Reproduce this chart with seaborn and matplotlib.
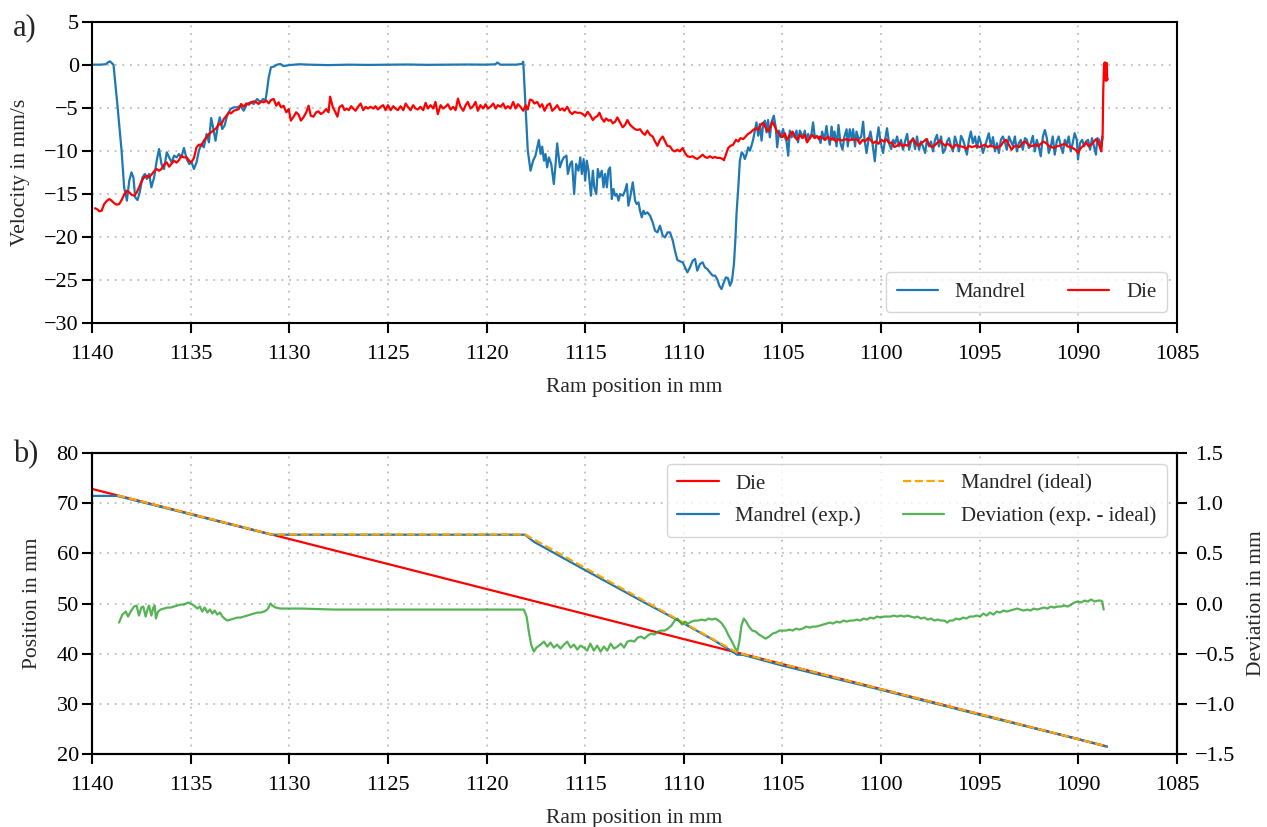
import matplotlib
matplotlib.use("Agg")
import matplotlib.pyplot as plt
import seaborn as sns
from matplotlib.lines import Line2D

# ---------------------------------------------------------------- panel a)
# Mandrel velocity (mm/s) against ram position (mm)
mandrel_ram_a = [
    1140.00, 1139.60, 1139.30, 1139.17, 1139.09, 1138.91, 1138.70, 1138.50, 1138.37, 1138.23,
    1138.11, 1138.00, 1137.90, 1137.81, 1137.69, 1137.58, 1137.44, 1137.32, 1137.22, 1137.10,
    1136.99, 1136.85, 1136.72, 1136.60, 1136.48, 1136.35, 1136.21, 1136.09, 1135.96, 1135.84,
    1135.71, 1135.59, 1135.47, 1135.34, 1135.20, 1135.07, 1134.95, 1134.83, 1134.70, 1134.58,
    1134.46, 1134.33, 1134.19, 1134.07, 1133.96, 1133.86, 1133.74, 1133.62, 1133.52, 1133.40,
    1133.28, 1133.15, 1132.98, 1132.81, 1132.64, 1132.47, 1132.31, 1132.14, 1131.97, 1131.80,
    1131.63, 1131.46, 1131.33, 1131.21, 1131.13, 1131.04, 1130.93, 1130.79, 1130.62, 1130.45,
    1130.29, 1130.00, 1129.50, 1129.00, 1128.00, 1127.00, 1126.00, 1125.00, 1124.00, 1123.00,
    1122.00, 1121.00, 1120.00, 1119.55, 1119.45, 1119.30, 1118.50, 1118.20, 1118.14, 1118.02,
    1117.91, 1117.77, 1117.64, 1117.52, 1117.43, 1117.35, 1117.26, 1117.18, 1117.09, 1117.01,
    1116.93, 1116.84, 1116.72, 1116.59, 1116.50, 1116.42, 1116.28, 1116.17, 1116.08, 1115.95,
    1115.88, 1115.76, 1115.67, 1115.56, 1115.46, 1115.34, 1115.25, 1115.17, 1115.08, 1115.00,
    1114.92, 1114.83, 1114.71, 1114.61, 1114.54, 1114.44, 1114.36, 1114.27, 1114.16, 1114.07,
    1113.99, 1113.90, 1113.82, 1113.74, 1113.65, 1113.57, 1113.48, 1113.40, 1113.31, 1113.23,
    1113.09, 1112.98, 1112.89, 1112.81, 1112.72, 1112.59, 1112.47, 1112.39, 1112.30, 1112.22,
    1112.13, 1112.05, 1111.96, 1111.85, 1111.71, 1111.58, 1111.46, 1111.34, 1111.21, 1111.07,
    1110.95, 1110.83, 1110.70, 1110.56, 1110.45, 1110.33, 1110.19, 1110.06, 1109.94, 1109.82,
    1109.69, 1109.55, 1109.43, 1109.32, 1109.18, 1109.05, 1108.93, 1108.81, 1108.68, 1108.54,
    1108.42, 1108.31, 1108.20, 1108.09, 1107.97, 1107.87, 1107.77, 1107.66, 1107.56, 1107.46,
    1107.39, 1107.33, 1107.24, 1107.16, 1107.07, 1106.99, 1106.91, 1106.82, 1106.74, 1106.65,
    1106.57, 1106.48, 1106.40, 1106.32, 1106.23, 1106.15, 1106.06, 1105.98, 1105.89, 1105.81,
    1105.73, 1105.64, 1105.56, 1105.44, 1105.34, 1105.27, 1105.17, 1105.08, 1104.97, 1104.88,
    1104.80, 1104.71, 1104.63, 1104.54, 1104.46, 1104.38, 1104.29, 1104.21, 1104.12, 1104.04,
    1103.95, 1103.87, 1103.79, 1103.70, 1103.62, 1103.53, 1103.45, 1103.36, 1103.28, 1103.15,
    1103.07, 1102.99, 1102.87, 1102.77, 1102.70, 1102.60, 1102.51, 1102.43, 1102.36, 1102.26,
    1102.16, 1102.06, 1101.96, 1101.86, 1101.75, 1101.69, 1101.59, 1101.48, 1101.42, 1101.32,
    1101.25, 1101.13, 1101.01, 1100.91, 1100.84, 1100.74, 1100.64, 1100.54, 1100.44, 1100.32,
    1100.24, 1100.13, 1100.03, 1099.90, 1099.80, 1099.70, 1099.60, 1099.49, 1099.39, 1099.29,
    1099.19, 1099.09, 1098.99, 1098.89, 1098.79, 1098.68, 1098.58, 1098.48, 1098.38, 1098.28,
    1098.18, 1098.08, 1097.98, 1097.88, 1097.77, 1097.67, 1097.57, 1097.47, 1097.37, 1097.27,
    1097.17, 1097.07, 1096.96, 1096.86, 1096.76, 1096.66, 1096.56, 1096.46, 1096.36, 1096.26,
    1096.16, 1096.05, 1095.95, 1095.85, 1095.75, 1095.65, 1095.55, 1095.45, 1095.35, 1095.24,
    1095.14, 1095.04, 1094.94, 1094.84, 1094.74, 1094.64, 1094.54, 1094.43, 1094.33, 1094.23,
    1094.13, 1094.03, 1093.93, 1093.83, 1093.73, 1093.63, 1093.52, 1093.42, 1093.32, 1093.22,
    1093.12, 1093.02, 1092.92, 1092.82, 1092.71, 1092.61, 1092.51, 1092.41, 1092.31, 1092.21,
    1092.11, 1092.01, 1091.91, 1091.80, 1091.70, 1091.60, 1091.50, 1091.40, 1091.30, 1091.20,
    1091.10, 1091.00, 1090.89, 1090.79, 1090.69, 1090.59, 1090.49, 1090.39, 1090.29, 1090.19,
    1090.08, 1090.02, 1089.92, 1089.81, 1089.71, 1089.61, 1089.51, 1089.41, 1089.31, 1089.21,
    1089.11, 1089.04, 1088.94, 1088.84, 1088.77,
]
mandrel_vel_a = [
    0.00, 0.00, 0.05, 0.30, 0.39, 0.00, -4.96, -10.00, -14.26, -15.81,
    -13.49, -12.52, -13.10, -15.43, -15.74, -14.84, -13.10, -12.71, -13.29, -12.71,
    -14.26, -13.10, -11.16, -9.81, -11.55, -12.13, -10.19, -10.78, -11.36, -10.58,
    -10.78, -10.39, -10.78, -9.69, -10.97, -11.55, -11.36, -12.13, -11.36, -10.00,
    -9.22, -9.61, -8.06, -9.03, -6.20, -7.29, -8.84, -7.09, -6.12, -7.48,
    -7.09, -5.93, -5.16, -4.96, -4.96, -4.77, -5.35, -4.57, -4.38, -4.57,
    -3.99, -4.38, -3.99, -4.19, -3.02, -1.47, -0.31, -0.23, 0.00, 0.08,
    -0.16, -0.05, 0.05, 0.00, -0.05, 0.00, -0.03, 0.00, 0.02, -0.02,
    0.00, 0.02, 0.00, 0.05, 0.25, 0.00, 0.00, 0.10, 0.35, -4.96,
    -10.00, -12.33, -11.16, -10.58, -9.61, -8.76, -10.39, -9.53, -11.16, -10.39,
    -11.94, -10.78, -11.55, -13.88, -11.55, -9.15, -11.94, -11.16, -10.78, -10.58,
    -12.71, -11.55, -11.24, -15.04, -11.55, -12.33, -10.78, -12.71, -10.97, -13.49,
    -11.16, -12.33, -15.23, -12.33, -14.26, -15.04, -12.13, -13.10, -12.33, -14.26,
    -12.71, -14.26, -12.25, -11.94, -15.62, -14.46, -15.23, -15.04, -15.81, -15.04,
    -15.23, -14.65, -13.88, -16.40, -15.43, -13.68, -15.81, -16.20, -16.01, -16.98,
    -17.75, -16.98, -17.36, -17.17, -17.56, -18.33, -19.30, -19.50, -18.72, -19.88,
    -20.08, -19.50, -19.50, -20.47, -21.63, -22.71, -22.87, -22.98, -23.57, -24.15,
    -23.57, -22.79, -22.60, -23.95, -23.18, -22.98, -23.57, -23.76, -24.15, -24.53,
    -24.53, -24.92, -25.70, -26.09, -25.31, -24.73, -24.81, -25.70, -25.12, -23.18,
    -20.47, -17.36, -14.26, -11.16, -10.19, -10.39, -10.97, -10.39, -9.61, -10.00,
    -9.42, -8.64, -7.67, -6.71, -8.26, -6.90, -8.84, -6.90, -6.51, -7.87,
    -6.43, -8.45, -6.71, -5.93, -7.29, -9.61, -7.67, -8.45, -7.48, -8.45,
    -8.84, -10.58, -7.67, -8.45, -7.87, -8.45, -7.67, -9.03, -7.67, -8.06,
    -8.45, -7.67, -8.84, -8.06, -8.64, -8.06, -6.71, -8.45, -8.26, -8.45,
    -9.12, -7.78, -8.74, -7.13, -8.35, -9.31, -7.20, -8.74, -7.78, -9.50,
    -7.01, -9.12, -9.89, -8.35, -7.51, -9.50, -7.51, -8.74, -7.51, -9.50,
    -7.78, -8.74, -8.35, -6.63, -8.74, -10.27, -8.74, -7.78, -9.12, -11.23,
    -9.12, -7.28, -8.93, -10.27, -8.74, -7.39, -9.12, -9.81, -8.74, -9.20,
    -8.35, -9.50, -8.74, -9.89, -8.93, -8.05, -9.89, -8.93, -8.54, -9.81,
    -8.35, -9.89, -8.93, -9.50, -10.27, -8.66, -9.50, -8.93, -10.08, -8.74,
    -8.16, -9.50, -8.35, -10.27, -9.89, -8.93, -8.54, -9.43, -10.08, -8.35,
    -9.12, -10.08, -8.28, -8.74, -9.50, -10.46, -8.74, -7.78, -9.12, -8.35,
    -9.69, -8.35, -9.12, -10.27, -9.50, -8.74, -7.97, -9.50, -8.43, -10.08,
    -9.12, -10.27, -8.74, -8.35, -8.93, -9.89, -8.35, -8.93, -9.43, -8.35,
    -10.08, -9.12, -8.74, -9.89, -8.54, -8.74, -9.69, -9.12, -8.28, -10.08,
    -8.74, -9.50, -10.65, -8.35, -7.59, -8.54, -10.27, -9.50, -8.35, -10.46,
    -8.93, -8.35, -9.50, -10.27, -8.74, -9.31, -8.35, -10.08, -9.12, -7.97,
    -8.74, -11.03, -9.12, -8.74, -9.50, -8.93, -8.74, -9.89, -8.54, -9.50,
    -10.46, -8.54, -8.74, -9.50, -8.35,
]

# Die velocity (mm/s) against ram position (mm)
die_ram_a = [
    1139.85, 1139.75, 1139.63, 1139.51, 1139.38, 1139.24, 1139.12, 1139.01, 1138.87, 1138.74,
    1138.62, 1138.50, 1138.37, 1138.23, 1138.11, 1138.00, 1137.86, 1137.73, 1137.61, 1137.49,
    1137.36, 1137.22, 1137.10, 1136.99, 1136.85, 1136.72, 1136.60, 1136.48, 1136.35, 1136.21,
    1136.09, 1135.98, 1135.84, 1135.71, 1135.59, 1135.47, 1135.34, 1135.20, 1135.08, 1134.97,
    1134.83, 1134.70, 1134.58, 1134.46, 1134.33, 1134.19, 1134.07, 1133.96, 1133.82, 1133.69,
    1133.57, 1133.45, 1133.32, 1133.18, 1133.06, 1132.95, 1132.81, 1132.68, 1132.56, 1132.44,
    1132.31, 1132.17, 1132.05, 1131.94, 1131.80, 1131.67, 1131.55, 1131.43, 1131.30, 1131.16,
    1131.04, 1130.93, 1130.79, 1130.66, 1130.54, 1130.42, 1130.29, 1130.15, 1130.03, 1129.92,
    1129.78, 1129.65, 1129.53, 1129.41, 1129.28, 1129.14, 1129.02, 1128.91, 1128.77, 1128.64,
    1128.52, 1128.40, 1128.27, 1128.13, 1128.01, 1127.93, 1127.79, 1127.68, 1127.56, 1127.46,
    1127.43, 1127.31, 1127.20, 1127.09, 1126.98, 1126.86, 1126.76, 1126.64, 1126.52, 1126.38,
    1126.25, 1126.13, 1126.01, 1125.88, 1125.74, 1125.63, 1125.51, 1125.37, 1125.24, 1125.12,
    1125.00, 1124.86, 1124.73, 1124.61, 1124.49, 1124.36, 1124.22, 1124.10, 1123.99, 1123.85,
    1123.72, 1123.60, 1123.48, 1123.35, 1123.21, 1123.09, 1122.97, 1122.84, 1122.70, 1122.59,
    1122.47, 1122.33, 1122.20, 1122.08, 1121.96, 1121.82, 1121.69, 1121.57, 1121.45, 1121.32,
    1121.18, 1121.06, 1120.95, 1120.81, 1120.68, 1120.56, 1120.44, 1120.31, 1120.17, 1120.05,
    1119.93, 1119.80, 1119.66, 1119.54, 1119.43, 1119.29, 1119.16, 1119.04, 1118.92, 1118.79,
    1118.65, 1118.53, 1118.41, 1118.28, 1118.14, 1118.02, 1117.91, 1117.80, 1117.69, 1117.57,
    1117.43, 1117.30, 1117.18, 1117.06, 1116.92, 1116.79, 1116.67, 1116.55, 1116.42, 1116.28,
    1116.17, 1116.05, 1115.91, 1115.78, 1115.66, 1115.54, 1115.41, 1115.25, 1115.12, 1115.00,
    1114.88, 1114.75, 1114.61, 1114.50, 1114.38, 1114.28, 1114.16, 1114.04, 1113.94, 1113.82,
    1113.70, 1113.60, 1113.48, 1113.37, 1113.23, 1113.10, 1112.98, 1112.86, 1112.72, 1112.59,
    1112.47, 1112.35, 1112.22, 1112.08, 1111.97, 1111.85, 1111.71, 1111.58, 1111.46, 1111.34,
    1111.21, 1111.07, 1110.95, 1110.84, 1110.70, 1110.57, 1110.45, 1110.33, 1110.20, 1110.06,
    1109.94, 1109.82, 1109.69, 1109.55, 1109.44, 1109.32, 1109.18, 1109.05, 1108.93, 1108.81,
    1108.68, 1108.54, 1108.42, 1108.31, 1108.17, 1108.04, 1107.97, 1107.87, 1107.75, 1107.63,
    1107.50, 1107.36, 1107.24, 1107.13, 1106.99, 1106.86, 1106.74, 1106.62, 1106.49, 1106.35,
    1106.23, 1106.11, 1105.98, 1105.84, 1105.73, 1105.61, 1105.51, 1105.39, 1105.27, 1105.14,
    1105.00, 1104.88, 1104.77, 1104.63, 1104.50, 1104.38, 1104.26, 1104.12, 1103.99, 1103.87,
    1103.75, 1103.62, 1103.48, 1103.37, 1103.25, 1103.15, 1103.10, 1102.97, 1102.83, 1102.70,
    1102.56, 1102.43, 1102.29, 1102.16, 1102.02, 1101.89, 1101.75, 1101.62, 1101.48, 1101.35,
    1101.21, 1101.08, 1100.94, 1100.81, 1100.67, 1100.54, 1100.40, 1100.27, 1100.13, 1100.00,
    1099.86, 1099.73, 1099.59, 1099.46, 1099.33, 1099.19, 1099.06, 1098.92, 1098.79, 1098.65,
    1098.52, 1098.38, 1098.25, 1098.11, 1097.98, 1097.84, 1097.71, 1097.57, 1097.44, 1097.30,
    1097.17, 1097.03, 1096.90, 1096.76, 1096.63, 1096.49, 1096.36, 1096.22, 1096.09, 1095.95,
    1095.82, 1095.68, 1095.55, 1095.41, 1095.28, 1095.14, 1095.01, 1094.87, 1094.74, 1094.60,
    1094.47, 1094.33, 1094.20, 1094.06, 1093.93, 1093.79, 1093.66, 1093.52, 1093.39, 1093.25,
    1093.12, 1092.98, 1092.85, 1092.71, 1092.58, 1092.45, 1092.31, 1092.18, 1092.04, 1091.91,
    1091.77, 1091.64, 1091.50, 1091.37, 1091.23, 1091.10, 1090.96, 1090.83, 1090.69, 1090.56,
    1090.42, 1090.29, 1090.15, 1090.02, 1089.88, 1089.75, 1089.61, 1089.48, 1089.34, 1089.21,
    1089.11, 1089.00, 1088.90, 1088.84, 1088.77, 1088.74, 1088.70, 1088.65, 1088.62, 1088.60,
    1088.58, 1088.56, 1088.54, 1088.53,
]
die_vel_a = [
    -16.70, -16.78, -17.05, -16.98, -16.20, -15.81, -15.62, -15.81, -16.12, -16.28,
    -16.20, -15.74, -15.12, -14.65, -14.84, -15.12, -15.23, -14.84, -14.26, -13.57,
    -13.10, -12.91, -13.10, -12.79, -12.40, -12.13, -12.33, -12.13, -11.63, -11.36,
    -11.86, -11.55, -11.16, -11.40, -11.09, -10.58, -10.78, -10.78, -11.16, -11.36,
    -10.85, -9.61, -9.30, -9.42, -8.84, -8.45, -8.06, -7.87, -7.60, -7.36,
    -6.90, -6.98, -6.32, -5.93, -5.54, -5.66, -5.35, -5.27, -5.16, -4.57,
    -4.88, -4.50, -4.65, -4.38, -4.26, -4.38, -4.57, -4.26, -4.38, -4.19,
    -4.50, -4.11, -3.99, -4.77, -4.38, -4.96, -4.77, -5.54, -5.16, -6.51,
    -6.05, -5.54, -5.81, -6.51, -6.12, -5.54, -4.77, -5.93, -6.05, -5.54,
    -5.43, -5.74, -5.54, -5.16, -5.54, -3.72, -4.96, -5.43, -6.05, -4.96,
    -4.90, -4.71, -5.29, -5.10, -5.29, -4.83, -5.10, -5.36, -4.90, -4.52,
    -5.29, -4.90, -5.10, -4.90, -5.10, -4.83, -5.21, -4.90, -4.71, -5.29,
    -4.71, -5.29, -4.83, -5.10, -5.29, -4.83, -5.29, -4.52, -4.90, -5.29,
    -4.71, -5.10, -5.21, -4.90, -5.29, -4.44, -5.10, -4.71, -5.10, -4.33,
    -5.75, -4.71, -5.10, -4.90, -4.60, -5.21, -4.90, -5.29, -3.95, -4.90,
    -5.36, -4.71, -4.33, -5.10, -4.83, -4.33, -5.36, -4.71, -5.10, -4.60,
    -5.10, -4.90, -4.52, -5.10, -4.71, -4.90, -4.52, -5.10, -4.83, -5.10,
    -4.33, -5.10, -4.60, -4.90, -5.36, -4.71, -5.21, -4.06, -4.14, -4.52,
    -4.33, -4.90, -4.60, -5.36, -4.71, -4.52, -5.36, -5.10, -4.71, -5.29,
    -5.10, -5.36, -4.90, -5.48, -5.75, -5.48, -5.59, -5.59, -5.75, -5.98,
    -5.48, -5.86, -6.44, -6.13, -5.98, -5.59, -6.25, -6.63, -6.25, -6.51,
    -6.44, -6.82, -6.63, -6.13, -6.74, -7.28, -7.01, -6.44, -7.01, -7.28,
    -7.51, -7.59, -7.51, -7.97, -8.16, -7.66, -8.16, -8.35, -8.93, -9.43,
    -8.74, -8.35, -8.93, -9.43, -9.50, -9.96, -10.08, -9.89, -10.08, -9.69,
    -10.27, -10.65, -10.73, -10.65, -10.84, -10.96, -10.73, -10.46, -10.73, -10.84,
    -10.65, -10.84, -10.73, -10.84, -10.84, -10.96, -11.11, -10.46, -9.69, -9.43,
    -9.31, -8.74, -8.93, -8.54, -8.66, -8.35, -8.05, -7.89, -7.59, -7.39,
    -7.59, -7.01, -6.74, -7.39, -7.78, -7.20, -6.63, -7.20, -7.78, -8.16,
    -8.43, -7.97, -8.74, -8.16, -7.78, -8.35, -8.74, -8.16, -8.54, -8.16,
    -9.04, -8.54, -8.16, -8.54, -8.35, -8.66, -8.35, -8.54, -8.74, -8.35,
    -8.74, -8.54, -8.93, -8.66, -8.81, -8.74, -8.66, -8.81, -8.66, -8.74,
    -8.66, -9.20, -8.74, -8.93, -8.54, -8.74, -9.12, -8.93, -9.20, -8.74,
    -8.93, -8.66, -9.12, -9.04, -9.58, -9.43, -9.12, -9.50, -9.31, -9.43,
    -8.93, -8.66, -9.12, -9.43, -9.12, -8.93, -8.66, -9.31, -9.58, -9.43,
    -9.12, -8.81, -9.12, -9.43, -9.20, -9.43, -9.69, -9.31, -9.43, -9.50,
    -9.58, -9.81, -9.43, -9.58, -9.50, -9.43, -9.58, -9.43, -9.31, -9.58,
    -9.43, -9.50, -9.69, -9.58, -9.43, -8.93, -8.74, -9.31, -9.89, -9.50,
    -9.43, -9.58, -9.12, -8.93, -9.20, -9.50, -9.43, -9.31, -9.50, -9.20,
    -8.93, -9.12, -9.43, -9.58, -9.69, -9.50, -9.43, -9.31, -9.20, -9.50,
    -9.58, -9.69, -9.89, -10.27, -9.69, -9.43, -9.04, -9.50, -9.31, -8.93,
    -8.66, -8.93, -9.69, -10.08, -7.97, -2.99, 0.15, 0.27, -1.84, 0.10,
    -1.84, 0.20, -1.80, -1.60,
]

# ---------------------------------------------------------------- panel b)
# Die position (mm)
die_ram_b = [1140.00, 1088.55]
die_pos_b = [72.90, 21.45]

# Mandrel position, measured (mm)
mandrel_exp_ram_b = [1140.00, 1138.72, 1130.90, 1118.05, 1117.60, 1115.00, 1112.00, 1110.30,
                     1108.50, 1107.60, 1107.30, 1107.00, 1105.00, 1100.00, 1095.00, 1090.00,
                     1088.55]
mandrel_exp_pos_b = [71.50, 71.50, 63.75, 63.75, 62.33, 56.68, 50.21, 46.66,
                     42.73, 40.55, 39.78, 39.75, 37.60, 32.76, 27.77, 22.91,
                     21.40]

# Mandrel position, ideal (mm)
mandrel_ideal_ram_b = [1138.72, 1130.90, 1118.05, 1107.30, 1088.55]
mandrel_ideal_pos_b = [71.62, 63.80, 63.80, 40.20, 21.45]

# Deviation exp. - ideal (mm), right axis
dev_ram_b = [
    1138.63, 1138.46, 1138.29, 1138.17, 1138.04, 1137.87, 1137.74, 1137.62, 1137.50, 1137.40,
    1137.28, 1137.19, 1137.11, 1136.99, 1136.89, 1136.82, 1136.76, 1136.65, 1136.52, 1136.35,
    1136.18, 1136.01, 1135.84, 1135.67, 1135.51, 1135.34, 1135.13, 1135.00, 1134.83, 1134.66,
    1134.53, 1134.41, 1134.29, 1134.15, 1134.02, 1133.90, 1133.78, 1133.65, 1133.51, 1133.39,
    1133.28, 1133.14, 1132.97, 1132.80, 1132.63, 1132.47, 1132.30, 1132.13, 1131.96, 1131.79,
    1131.62, 1131.45, 1131.28, 1131.11, 1131.03, 1130.95, 1130.86, 1130.69, 1130.44, 1130.10,
    1129.42, 1127.74, 1124.36, 1120.98, 1119.29, 1118.11, 1117.97, 1117.85, 1117.74, 1117.60,
    1117.47, 1117.26, 1117.09, 1116.92, 1116.76, 1116.59, 1116.42, 1116.25, 1116.08, 1115.91,
    1115.74, 1115.57, 1115.40, 1115.24, 1115.07, 1114.90, 1114.74, 1114.56, 1114.39, 1114.22,
    1114.05, 1113.88, 1113.71, 1113.54, 1113.37, 1113.20, 1113.03, 1112.86, 1112.68, 1112.51,
    1112.34, 1112.17, 1112.00, 1111.83, 1111.66, 1111.49, 1111.32, 1111.15, 1110.97, 1110.80,
    1110.63, 1110.46, 1110.33, 1110.21, 1110.09, 1109.95, 1109.78, 1109.61, 1109.44, 1109.27,
    1109.09, 1108.92, 1108.75, 1108.58, 1108.41, 1108.24, 1108.07, 1107.90, 1107.73, 1107.56,
    1107.39, 1107.28, 1107.18, 1107.08, 1106.96, 1106.84, 1106.70, 1106.53, 1106.36, 1106.19,
    1106.02, 1105.85, 1105.68, 1105.50, 1105.33, 1105.16, 1104.99, 1104.82, 1104.65, 1104.48,
    1104.31, 1104.14, 1103.97, 1103.80, 1103.62, 1103.45, 1103.28, 1103.11, 1102.94, 1102.77,
    1102.60, 1102.43, 1102.26, 1102.09, 1101.91, 1101.74, 1101.57, 1101.40, 1101.23, 1101.06,
    1100.89, 1100.72, 1100.55, 1100.38, 1100.21, 1100.03, 1099.86, 1099.69, 1099.52, 1099.35,
    1099.18, 1099.01, 1098.84, 1098.67, 1098.50, 1098.32, 1098.15, 1097.98, 1097.81, 1097.64,
    1097.47, 1097.30, 1097.13, 1096.96, 1096.79, 1096.65, 1096.53, 1096.36, 1096.19, 1096.02,
    1095.85, 1095.68, 1095.51, 1095.33, 1095.16, 1094.99, 1094.82, 1094.65, 1094.48, 1094.31,
    1094.14, 1093.97, 1093.80, 1093.63, 1093.45, 1093.28, 1093.11, 1092.94, 1092.77, 1092.60,
    1092.43, 1092.26, 1092.09, 1091.92, 1091.74, 1091.57, 1091.40, 1091.23, 1091.06, 1090.89,
    1090.72, 1090.55, 1090.36, 1090.20, 1090.03, 1089.86, 1089.69, 1089.52, 1089.36, 1089.17,
    1089.00, 1088.89, 1088.79, 1088.72,
]
dev_b = [
    -0.19, -0.11, -0.08, -0.13, -0.08, -0.03, -0.02, -0.12, -0.04, -0.03,
    -0.13, -0.06, -0.02, -0.12, -0.04, -0.02, -0.15, -0.08, -0.06, -0.05,
    -0.04, -0.04, -0.03, -0.02, -0.01, -0.01, 0.01, 0.00, -0.02, -0.05,
    -0.03, -0.08, -0.04, -0.09, -0.06, -0.10, -0.07, -0.11, -0.09, -0.13,
    -0.15, -0.17, -0.16, -0.15, -0.14, -0.14, -0.13, -0.12, -0.11, -0.10,
    -0.09, -0.09, -0.08, -0.06, -0.03, 0.00, -0.02, -0.04, -0.05, -0.05,
    -0.05, -0.06, -0.06, -0.06, -0.06, -0.06, -0.13, -0.29, -0.41, -0.48,
    -0.44, -0.41, -0.38, -0.43, -0.39, -0.44, -0.41, -0.45, -0.41, -0.38,
    -0.44, -0.41, -0.46, -0.42, -0.44, -0.47, -0.40, -0.47, -0.42, -0.48,
    -0.43, -0.47, -0.40, -0.45, -0.43, -0.40, -0.44, -0.38, -0.37, -0.38,
    -0.34, -0.33, -0.35, -0.32, -0.30, -0.31, -0.28, -0.27, -0.27, -0.25,
    -0.22, -0.17, -0.15, -0.18, -0.21, -0.18, -0.20, -0.18, -0.17, -0.17,
    -0.16, -0.17, -0.15, -0.16, -0.15, -0.17, -0.20, -0.25, -0.32, -0.38,
    -0.45, -0.47, -0.37, -0.22, -0.15, -0.18, -0.23, -0.27, -0.28, -0.31,
    -0.33, -0.35, -0.33, -0.30, -0.29, -0.27, -0.27, -0.27, -0.26, -0.27,
    -0.25, -0.26, -0.25, -0.23, -0.24, -0.23, -0.23, -0.22, -0.21, -0.20,
    -0.19, -0.20, -0.18, -0.19, -0.17, -0.18, -0.17, -0.17, -0.16, -0.17,
    -0.15, -0.16, -0.14, -0.15, -0.13, -0.14, -0.13, -0.13, -0.13, -0.12,
    -0.13, -0.12, -0.13, -0.12, -0.13, -0.14, -0.13, -0.15, -0.14, -0.16,
    -0.15, -0.17, -0.16, -0.17, -0.17, -0.19, -0.17, -0.17, -0.15, -0.16,
    -0.14, -0.15, -0.13, -0.13, -0.12, -0.13, -0.10, -0.12, -0.09, -0.11,
    -0.08, -0.09, -0.07, -0.08, -0.07, -0.06, -0.05, -0.06, -0.07, -0.06,
    -0.07, -0.05, -0.06, -0.05, -0.04, -0.05, -0.03, -0.04, -0.03, -0.03,
    -0.02, -0.03, -0.01, 0.01, 0.02, 0.01, 0.03, 0.02, 0.04, 0.02,
    0.03, 0.03, 0.02, -0.06,
]

# ---------------------------------------------------------------- styling
sns.set_style("ticks")
plt.rcParams["font.family"] = ["Liberation Serif", "DejaVu Serif"]
plt.rcParams["axes.unicode_minus"] = True

BLUE = "#1f77b4"
RED = "#ff0000"
ORANGE = "#ffa500"
GREEN = "#2ca02c"
TICK_FS = 16
LABEL_FS = 15.5
LEGEND_FS = 15

fig = plt.figure(figsize=(12.67, 8.27), dpi=100)
ax_a = fig.add_axes([0.0726, 0.6098, 0.8564, 0.3640])
ax_b = fig.add_axes([0.0726, 0.0886, 0.8564, 0.3632])


def frame(ax, grid=True):
    for s in ax.spines.values():
        s.set_visible(True)
        s.set_color("black")
        s.set_linewidth(1.5)
    ax.tick_params(direction="out", length=7, width=1.5, colors="black",
                   labelsize=TICK_FS)
    ax.tick_params(axis="x", pad=9)
    ax.tick_params(axis="y", pad=2.5)
    if grid:
        ax.grid(True, color="#bdbdbd", linewidth=1.3, linestyle=(0, (1, 3.2)))
        ax.set_axisbelow(True)


LEG_KW = dict(ncol=2, fontsize=LEGEND_FS, borderpad=0.5, labelspacing=0.62)

# panel a
sns.lineplot(x=mandrel_ram_a, y=mandrel_vel_a, ax=ax_a, color=BLUE, linewidth=1.6,
             sort=False, estimator=None)
sns.lineplot(x=die_ram_a, y=die_vel_a, ax=ax_a, color=RED, linewidth=1.6,
             sort=False, estimator=None)
ax_a.set_xlim(1140, 1085)
ax_a.set_ylim(-30, 5)
ax_a.set_xticks(range(1140, 1084, -5))
ax_a.set_yticks(range(-30, 6, 5))
ax_a.set_xlabel("Ram position in mm", fontsize=LABEL_FS, labelpad=10)
ax_a.set_ylabel("Velocity in mm/s", fontsize=LABEL_FS, labelpad=10)
frame(ax_a)
ax_a.legend(handles=[Line2D([], [], color=BLUE, lw=1.6),
                     Line2D([], [], color=RED, lw=1.6)],
            labels=["Mandrel", "Die"], loc="lower right", **LEG_KW)

# panel b
sns.lineplot(x=die_ram_b, y=die_pos_b, ax=ax_b, color=RED, linewidth=1.6,
             sort=False, estimator=None)
sns.lineplot(x=mandrel_exp_ram_b, y=mandrel_exp_pos_b, ax=ax_b, color=BLUE,
             linewidth=1.6, sort=False, estimator=None)
sns.lineplot(x=mandrel_ideal_ram_b, y=mandrel_ideal_pos_b, ax=ax_b, color=ORANGE,
             linewidth=1.6, linestyle="--", sort=False, estimator=None)
ax_b.set_xlim(1140, 1085)
ax_b.set_ylim(20, 80)
ax_b.set_xticks(range(1140, 1084, -5))
ax_b.set_yticks(range(20, 81, 10))
ax_b.set_xlabel("Ram position in mm", fontsize=LABEL_FS, labelpad=10)
ax_b.set_ylabel("Position in mm", fontsize=LABEL_FS, labelpad=10.5)
frame(ax_b)

ax_b2 = ax_b.twinx()
sns.lineplot(x=dev_ram_b, y=dev_b, ax=ax_b2, color=GREEN, linewidth=1.6, alpha=0.8,
             sort=False, estimator=None)
ax_b2.set_ylim(-1.5, 1.5)
ax_b2.set_yticks([-1.5, -1.0, -0.5, 0.0, 0.5, 1.0, 1.5])
ax_b2.set_ylabel("Deviation in mm", fontsize=LABEL_FS, labelpad=8)
frame(ax_b2, grid=False)
ax_b2.tick_params(axis="y", left=False, right=True, labelleft=False, labelright=True,
                  pad=6)
ax_b2.set_xlim(1140, 1085)

ax_b2.legend(handles=[Line2D([], [], color=RED, lw=1.6),
                      Line2D([], [], color=BLUE, lw=1.6),
                      Line2D([], [], color=ORANGE, lw=1.6, ls="--"),
                      Line2D([], [], color=GREEN, lw=1.6, alpha=0.8)],
             labels=["Die", "Mandrel (exp.)", "Mandrel (ideal)",
                     "Deviation (exp. - ideal)"],
             loc="upper right", **LEG_KW)

fig.text(0.010, 0.966, "a)", fontsize=22, va="center", ha="left")
fig.text(0.010, 0.450, "b)", fontsize=22, va="center", ha="left")

fig.savefig("out.png", dpi=100)
